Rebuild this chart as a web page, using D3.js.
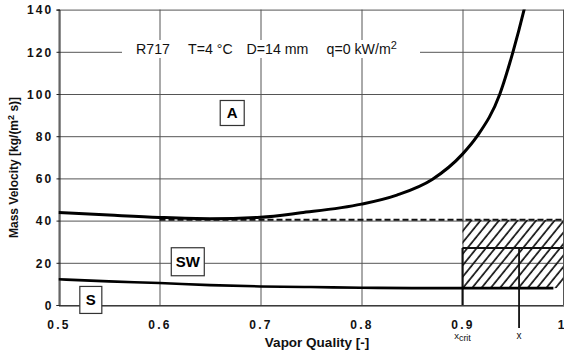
<!DOCTYPE html>
<html>
<head>
<meta charset="utf-8">
<script src="https://cdn.jsdelivr.net/npm/d3@7/dist/d3.min.js"></script>
<style>
  html, body { margin: 0; padding: 0; background: #fff; }
  svg { display: block; font-family: "Liberation Sans", Arial, Helvetica, sans-serif; }
</style>
</head>
<body>
<svg id="chart" width="564" height="350"></svg>
<script>
// ---- data ----
const xTicks = [0.5, 0.6, 0.7, 0.8, 0.9, 1];
const xTickLabels = ["0.5", "0.6", "0.7", "0.8", "0.9", "1"];
const yTicks = [0, 20, 40, 60, 80, 100, 120, 140];
const yTickLabels = ["0", "20", "40", "60", "80", "100", "120", "140"];

// upper transition curve (A / SW boundary)
const upperX = [0.5, 0.55, 0.6, 0.65, 0.7, 0.74, 0.8, 0.835, 0.87, 0.9, 0.9145, 0.937, 0.95, 0.961, 0.964];
const upperY = [43.8, 42.6, 41.5, 40.9, 41.6, 43.7, 47.8, 52.1, 59.5, 71.5, 80, 100, 120, 140, 146];
// lower transition curve (SW / S boundary)
const lowerX = [0.5, 0.55, 0.6, 0.65, 0.7, 0.75, 0.8, 0.85, 0.9, 0.95, 0.99];
const lowerY = [12.2, 11.2, 10.4, 9.4, 8.8, 8.5, 8.2, 8.0, 8.0, 8.0, 8.0];

const dashedG = 40.4;          // horizontal dashed line
const dashedFrom = 0.6;
const xCrit = 0.9;
const xMark = 0.956;
const gMid = 27;
const gLow = 8;

const regionLabels = ["A", "SW", "S"];
const regionX = [0.672, 0.628, 0.532];
const regionY = [91, 20.5, 2.4];

const titleParts = ["R717", "T=4 °C", "D=14 mm", "q=0 kW/m"];
const titleSup = "2";
const xTitle = "Vapor Quality [-]";

// ---- scales ----
const svg = d3.select("#chart");
const xs = d3.scaleLinear().domain([0.5, 1]).range([58.5, 563.5]);
const ys = d3.scaleLinear().domain([0, 140]).range([305, 9.6]);

const defs = svg.append("defs");
defs.append("clipPath").attr("id", "plotclip")
  .append("rect").attr("x", xs(0.5)).attr("y", ys(140)).attr("width", xs(1) - xs(0.5)).attr("height", ys(0) - ys(140));
const pat = defs.append("pattern").attr("id", "hatch")
  .attr("patternUnits", "userSpaceOnUse").attr("width", 7.2).attr("height", 7.2)
  .attr("patternTransform", "rotate(39)");
pat.append("line").attr("x1", 1).attr("y1", 0).attr("x2", 1).attr("y2", 7.2)
  .attr("stroke", "#111").attr("stroke-width", 1.7);

const plotW = xs(1) - xs(0.5);
const plotH = ys(0) - ys(140);

// ---- grid (drawn via axes with long ticks) ----
const gridY = svg.append("g").attr("transform", "translate(58.5,0)")
  .call(d3.axisLeft(ys).tickValues(yTicks).tickSize(-plotW).tickFormat(""));
gridY.select(".domain").remove();
gridY.selectAll(".tick line").attr("stroke", "#555").attr("stroke-width", 1);

const gridX = svg.append("g").attr("transform", `translate(0,${ys(140)})`)
  .call(d3.axisBottom(xs).tickValues(xTicks).tickSize(plotH).tickFormat(""));
gridX.select(".domain").remove();
gridX.selectAll(".tick line").attr("stroke", "#555").attr("stroke-width", 1);
gridX.selectAll(".tick").filter(d => d === 1).attr("transform", "translate(563.5,0)");

// ---- axes ----
const xAxis = svg.append("g").attr("transform", `translate(0,${Math.round(ys(0)) + 0.5})`)
  .call(d3.axisBottom(xs).tickValues(xTicks).tickSize(0).tickFormat((d, i) => xTickLabels[i]));
xAxis.select(".domain").attr("stroke", "#222");
xAxis.selectAll("text").attr("dy", 0).attr("y", 23)
  .attr("font-size", 12).attr("font-weight", "bold").attr("letter-spacing", 2.2).attr("fill", "#111")
  .attr("font-family", "Liberation Sans, Arial, sans-serif");
xAxis.selectAll("text").filter(d => d === 1).attr("text-anchor", "end").attr("x", 0.5).attr("letter-spacing", 0);

const yAxis = svg.append("g").attr("transform", `translate(${Math.round(xs(0.5)) + 0.5},0)`)
  .call(d3.axisLeft(ys).tickValues(yTicks).tickSize(3).tickFormat((d, i) => yTickLabels[i]));
yAxis.select(".domain").attr("stroke", "#222");
yAxis.selectAll("line").attr("stroke", "#222");
yAxis.selectAll("text").attr("x", -6).attr("dy", "0.36em")
  .attr("font-size", 12).attr("font-weight", "bold").attr("letter-spacing", 2.2).attr("fill", "#111")
  .attr("font-family", "Liberation Sans, Arial, sans-serif");

// ---- title in the plot ----
const tg = svg.append("g");
tg.append("rect").attr("x", 122).attr("y", 40).attr("width", 298).attr("height", 18).attr("fill", "#fff");
const titleX = [136, 188, 246.5, 326.5];
titleParts.forEach((p, i) => {
  const t = tg.append("text").attr("x", titleX[i]).attr("y", 54).attr("font-size", 14.2).attr("fill", "#111").text(p);
  if (i === titleParts.length - 1) {
    t.append("tspan").attr("font-size", 11).attr("dy", -5.5).text(titleSup);
  }
});

// ---- hatched region ----
const plot = svg.append("g").attr("clip-path", "url(#plotclip)");
plot.append("rect").attr("x", xs(xCrit)).attr("y", ys(dashedG)).attr("width", xs(1) - xs(xCrit)).attr("height", ys(gLow) - ys(dashedG))
  .attr("fill", "url(#hatch)");

// dashed line at G=40
plot.append("line").attr("x1", xs(dashedFrom)).attr("x2", xs(1)).attr("y1", ys(dashedG)).attr("y2", ys(dashedG))
  .attr("stroke", "#111").attr("stroke-width", 1.8).attr("stroke-dasharray", "6,3");

// x_crit line, G mid line, x line
plot.append("line").attr("x1", xs(xCrit)).attr("x2", xs(xCrit)).attr("y1", ys(gMid)).attr("y2", ys(0))
  .attr("stroke", "#111").attr("stroke-width", 2);
plot.append("line").attr("x1", xs(xCrit)).attr("x2", xs(1)).attr("y1", ys(gMid)).attr("y2", ys(gMid))
  .attr("stroke", "#111").attr("stroke-width", 2);
svg.append("line").attr("x1", xs(xMark)).attr("x2", xs(xMark)).attr("y1", ys(gMid)).attr("y2", 328)
  .attr("stroke", "#111").attr("stroke-width", 1.8);

// ---- curves ----
const lineGen = d3.line().x(d => xs(d[0])).y(d => ys(d[1])).curve(d3.curveMonotoneX);
plot.append("path").datum(upperX.map((v, i) => [v, upperY[i]]))
  .attr("d", lineGen).attr("fill", "none").attr("stroke", "#000").attr("stroke-width", 3);
plot.append("path").datum(lowerX.map((v, i) => [v, lowerY[i]]))
  .attr("d", lineGen).attr("fill", "none").attr("stroke", "#000").attr("stroke-width", 2.6);

// ---- region labels ----
const boxW = [24, 33, 22], boxH = [25, 28, 27];
regionLabels.forEach((lab, i) => {
  const cx = xs(regionX[i]), cy = ys(regionY[i]);
  svg.append("rect").attr("x", cx - boxW[i] / 2).attr("y", cy - boxH[i] / 2).attr("width", boxW[i]).attr("height", boxH[i])
    .attr("fill", "#fff").attr("stroke", "#333").attr("stroke-width", 1.2);
  svg.append("text").attr("x", cx).attr("y", cy).attr("dy", "0.36em").attr("text-anchor", "middle")
    .attr("font-size", 15).attr("font-weight", "bold").attr("fill", "#000").text(lab);
});

// ---- axis titles ----
svg.append("text").attr("x", 317).attr("y", 347).attr("text-anchor", "middle")
  .attr("font-size", 13.5).attr("font-weight", "bold").attr("fill", "#111").text(xTitle);

const yt = svg.append("text").attr("transform", "translate(18,238) rotate(-90)").attr("text-anchor", "start")
  .attr("font-size", 12).attr("font-weight", "bold").attr("fill", "#111");
yt.append("tspan").text("Mass Velocity [kg/(m");
yt.append("tspan").attr("font-size", 9).attr("dy", -4).text("2");
yt.append("tspan").attr("dy", 4).text(" s)]");

// x_crit and x labels
const xc = svg.append("text").attr("x", xs(xCrit)).attr("y", 339).attr("text-anchor", "middle")
  .attr("font-size", 9.5).attr("fill", "#111");
xc.append("tspan").text("x");
xc.append("tspan").attr("dy", 1.5).attr("font-size", 9).text("crit");
svg.append("text").attr("x", xs(xMark)).attr("y", 339).attr("text-anchor", "middle")
  .attr("font-size", 10).attr("fill", "#111").text("x");
</script>
</body>
</html>
